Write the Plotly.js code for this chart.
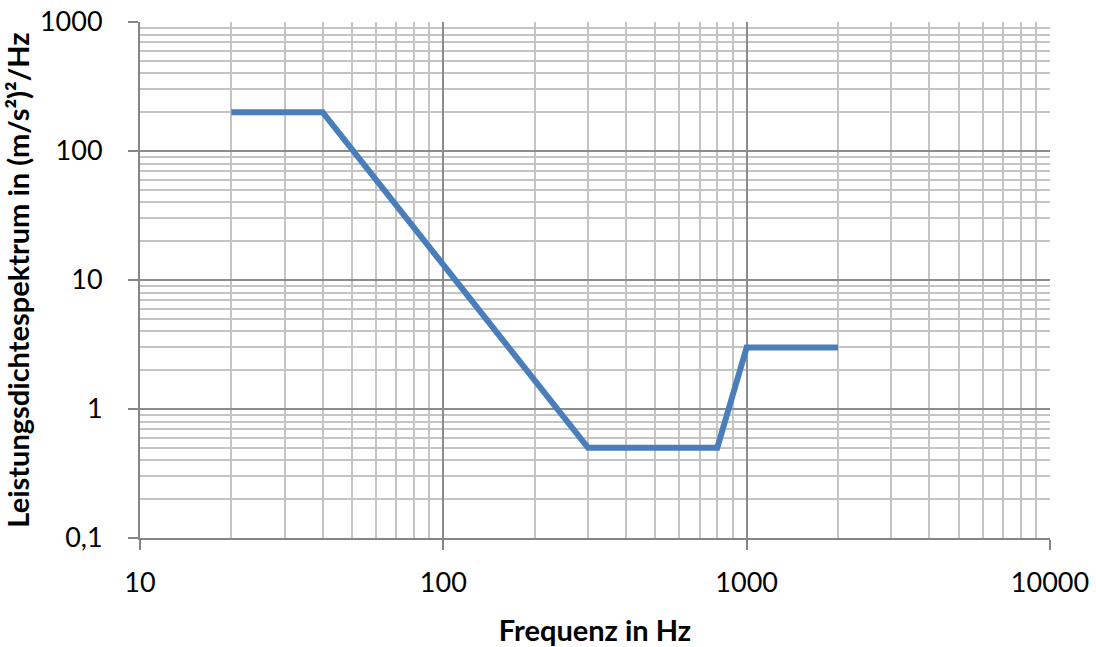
<!DOCTYPE html>
<html>
<head>
<meta charset="utf-8">
<script src="https://cdn.plot.ly/plotly-3.0.1.min.js"></script>
<style>html,body{margin:0;padding:0;background:#fff;}#chart{width:1096px;height:647px;}</style>
</head>
<body>
<div id="chart"></div>
<script>
const frequencies = [20, 40, 300, 800, 1000, 2000];
const psdValues = [200, 200, 0.5, 0.5, 3, 3];
const xTickVals = [10, 100, 1000, 10000];
const xTickText = ["10", "100", "1000", "10000"];
const yTickVals = [0.1, 1, 10, 100, 1000];
const yTickText = ["0,1", "1", "10", "100", "1000"];

const font = "Lato, 'Open Sans', sans-serif";
const trace = {
  x: frequencies, y: psdValues, type: "scatter", mode: "lines",
  line: {color: "#4A7EBB", width: 6}, hoverinfo: "skip"
};
const layout = {
  width: 1096, height: 647,
  margin: {l: 140, r: 46, t: 22, b: 109},
  paper_bgcolor: "#fff", plot_bgcolor: "#fff",
  showlegend: false,
  font: {family: font, size: 27, color: "#000"},
  xaxis: {
    type: "log", range: [1, 4],
    tickvals: xTickVals, ticktext: xTickText,
    tickfont: {family: font, size: 27},
    showline: true, linecolor: "#868686", linewidth: 2, mirror: false,
    ticks: "outside", ticklen: 10, tickcolor: "#868686", tickwidth: 2,
    ticklabelstandoff: 10,
    showgrid: true, gridcolor: "#8c8c8c", gridwidth: 2,
    minor: {dtick: "D1", showgrid: true, gridcolor: "#c4c4c4", gridwidth: 2, ticks: ""},
    zeroline: false,
    title: {text: "<b>Frequenz in Hz</b>", font: {family: font, size: 29}, standoff: 24}
  },
  yaxis: {
    type: "log", range: [-1, 3],
    tickvals: yTickVals, ticktext: yTickText,
    tickfont: {family: font, size: 27},
    showline: true, linecolor: "#868686", linewidth: 2,
    ticks: "outside", ticklen: 10, tickcolor: "#868686", tickwidth: 2,
    ticklabelstandoff: 20,
    showgrid: true, gridcolor: "#8c8c8c", gridwidth: 2,
    minor: {dtick: "D1", showgrid: true, gridcolor: "#c4c4c4", gridwidth: 2, ticks: ""},
    zeroline: false,
    title: {text: "<b>Leistungsdichtespektrum in (m/s²)²/Hz</b>", font: {family: font, size: 29}, standoff: 14}
  }
};
Plotly.newPlot("chart", [trace], layout, {staticPlot: true});
</script>
</body>
</html>
